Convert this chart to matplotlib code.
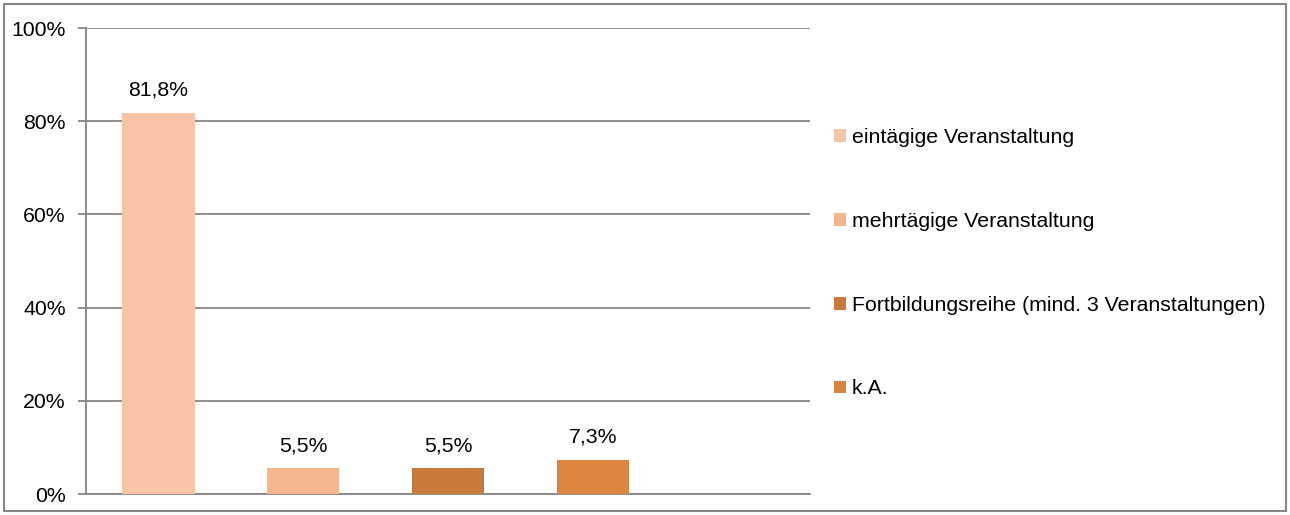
import matplotlib.pyplot as plt
from matplotlib.patches import Rectangle, Patch

plt.rcParams['font.family'] = ['Liberation Sans', 'DejaVu Sans']

# data
categories = ['eintägige Veranstaltung', 'mehrtägige Veranstaltung',
              'Fortbildungsreihe (mind. 3 Veranstaltungen)', 'k.A.']
values = [81.8, 5.5, 5.5, 7.3]
colors = ['#F8C3A7', '#F7B58E', '#C87A3B', '#DC8541']
yticks = [0, 20, 40, 60, 80, 100]

fig = plt.figure(figsize=(12.9, 5.15), dpi=100)
W, H = 1290, 515
ax = fig.add_axes([86 / W, 1 - 494 / H, (810 - 86) / W, (494 - 28) / H])

x = range(len(values))
ax.bar(x, values, width=0.5, color=colors, zorder=3)
for xi, v in zip(x, values):
    ax.text(xi, v + 2.8, f'{v:.1f}%'.replace('.', ','), ha='center', va='bottom',
            fontsize=15.3, color='black')

ax.set_xlim(-0.5, 4.5)
ax.set_ylim(0, 100)
ax.set_yticks(yticks)
ax.set_yticklabels([f'{t}%' for t in yticks], fontsize=15.3)
ax.set_xticks([])
ax.yaxis.grid(True, color='#868686', linewidth=1.3, zorder=0)
ax.tick_params(axis='y', length=6, width=1.3, color='#868686', pad=8.5)
for s in ['top', 'right']:
    ax.spines[s].set_visible(False)
ax.spines['left'].set_color('#868686')
ax.spines['left'].set_linewidth(1.3)
ax.spines['bottom'].set_color('#868686')
ax.spines['bottom'].set_linewidth(1.3)

handles = [Patch(facecolor=c, edgecolor='none') for c in colors]
fig.legend(handles, categories, loc='upper left', bbox_to_anchor=(834 / W, 1 - 128 / H),
           frameon=False, fontsize=15.3, handlelength=0.55, handleheight=0.55,
           handletextpad=0.3, labelspacing=3.05, borderpad=0, borderaxespad=0)

# outer border
fig.patches.append(Rectangle((4 / W, 4 / H), 1 - 8 / W, 1 - 8 / H, transform=fig.transFigure,
                             fill=False, edgecolor='#868686', linewidth=1.5))

fig.savefig('out.png', dpi=100)
